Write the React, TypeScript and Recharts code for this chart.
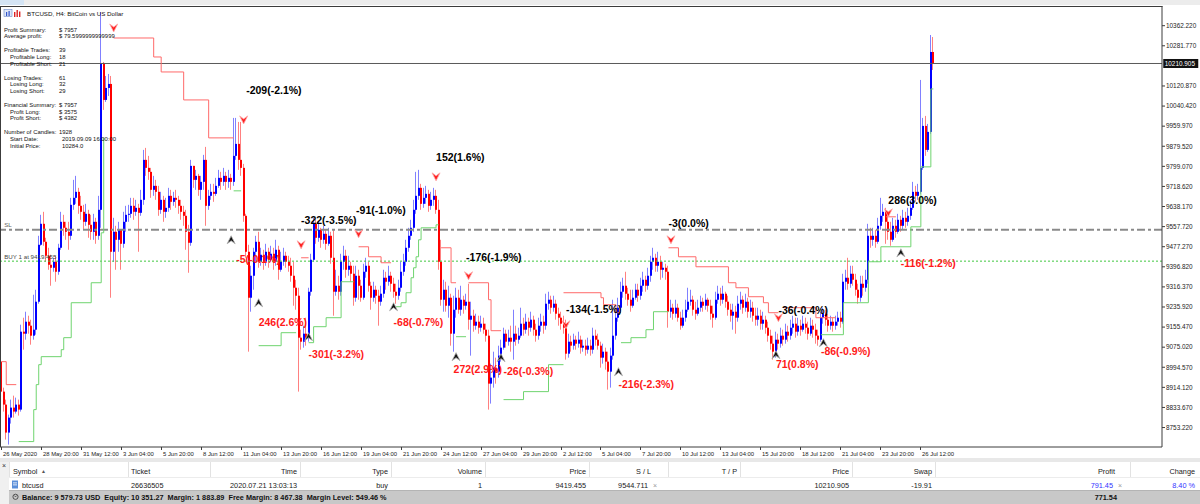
import {
  Bar,
  ComposedChart,
  Line,
  ReferenceDot,
  ReferenceLine,
  XAxis,
  YAxis,
} from "recharts"

const FONT = "'Liberation Sans', Arial, sans-serif"

// BTCUSD H4 candles, 26 May 04:00 .. 26 Jul 2020 (open = previous close)
const firstOpen = 9017
const closes = [
  8897, 8845, 8733, 8793, 8833, 8817, 8845, 8825, 9137, 9129, 9177, 9161, 9121, 9145, 9257, 9485,
  9569, 9497, 9441, 9405, 9393, 9417, 9377, 9473, 9577, 9553, 9537, 9521, 9645, 9673, 9697, 9641,
  9617, 9577, 9609, 9565, 9537, 9577, 9521, 9625, 10213, 10065, 10113, 10129, 9457, 9537, 9505, 9545,
  9489, 9577, 9605, 9609, 9641, 9617, 9633, 9613, 9665, 9825, 9793, 9777, 9705, 9721, 9697, 9625,
  9665, 9617, 9633, 9681, 9657, 9673, 9665, 9641, 9617, 9601, 9537, 9493, 9801, 9745, 9761, 9705,
  9737, 9825, 9641, 9681, 9697, 9689, 9721, 9753, 9737, 9761, 9737, 9753, 9737, 9841, 9889, 9825,
  9793, 9601, 9457, 9273, 9361, 9457, 9497, 9417, 9445, 9417, 9457, 9425, 9449, 9417, 9465, 9385,
  9417, 9441, 9417, 9401, 9361, 9313, 9281, 9113, 9097, 9129, 9113, 9297, 9425, 9569, 9513, 9545,
  9505, 9529, 9489, 9521, 9433, 9297, 9321, 9297, 9417, 9441, 9385, 9401, 9369, 9273, 9361, 9321,
  9273, 9377, 9401, 9321, 9273, 9305, 9281, 9257, 9289, 9353, 9337, 9361, 9329, 9297, 9281, 9313,
  9377, 9417, 9473, 9521, 9553, 9625, 9681, 9713, 9649, 9673, 9689, 9641, 9665, 9681, 9625, 9417,
  9265, 9305, 9241, 9273, 9129, 9225, 9273, 9225, 9265, 9241, 9257, 9185, 9201, 9161, 9177, 9153,
  9169, 9145, 9121, 8929, 8953, 8993, 8977, 9041, 9073, 9129, 9097, 9113, 9097, 9129, 9105, 9121,
  9169, 9145, 9177, 9153, 9185, 9145, 9121, 9161, 9177, 9161, 9249, 9265, 9233, 9249, 9209, 9193,
  9169, 9153, 9049, 9097, 9081, 9105, 9089, 9105, 9073, 9081, 9065, 9081, 9065, 9121, 9105, 9081,
  9033, 9057, 9017, 8977, 9041, 9121, 9193, 9233, 9297, 9321, 9289, 9265, 9241, 9273, 9305, 9281,
  9321, 9345, 9321, 9361, 9417, 9433, 9401, 9417, 9385, 9393, 9377, 9217, 9233, 9209, 9233, 9193,
  9161, 9193, 9225, 9257, 9265, 9225, 9209, 9233, 9257, 9241, 9265, 9241, 9209, 9193, 9265, 9289,
  9265, 9289, 9257, 9225, 9201, 9217, 9193, 9249, 9265, 9233, 9257, 9217, 9233, 9201, 9185, 9201,
  9169, 9185, 9153, 9121, 9089, 9057, 9105, 9089, 9121, 9105, 9137, 9121, 9153, 9169, 9137, 9161,
  9145, 9169, 9153, 9129, 9161, 9145, 9121, 9105, 9193, 9209, 9185, 9161, 9177, 9161, 9177, 9193,
  9177, 9337, 9353, 9329, 9369, 9345, 9305, 9273, 9329, 9313, 9345, 9521, 9505, 9521, 9497, 9561,
  9601, 9617, 9577, 9537, 9505, 9561, 9537, 9585, 9561, 9593, 9577, 9601, 9633, 9697, 9681, 9697,
  9793, 9961, 9865, 9937, 10257, 10210.905,
]
const highs = [
  9033, 8913, 8865, 8805, 8865, 8881, 8873, 8865, 9165, 9193, 9217, 9201, 9185, 9285, 9305, 9521,
  9605, 9617, 9513, 9473, 9445, 9433, 9441, 9489, 9617, 9605, 9577, 9577, 9673, 9745, 9761, 9713,
  9681, 9645, 9649, 9625, 9605, 9609, 9593, 9681, 10417, 10217, 10161, 10169, 10161, 9593, 9561, 9577,
  9545, 9617, 9641, 9645, 9673, 9673, 9665, 9649, 9705, 9865, 9873, 9841, 9793, 9761, 9745, 9721,
  9697, 9681, 9673, 9713, 9705, 9697, 9705, 9681, 9665, 9641, 9625, 9565, 9825, 9801, 9785, 9769,
  9761, 9845, 9877, 9705, 9729, 9729, 9753, 9785, 9777, 9793, 9777, 9785, 9769, 9993, 9993, 9977,
  9977, 9809, 9609, 9485, 9401, 9473, 9521, 9537, 9473, 9465, 9489, 9473, 9481, 9473, 9505, 9481,
  9457, 9473, 9457, 9441, 9433, 9417, 9345, 9313, 9145, 9161, 9193, 9313, 9449, 9593, 9585, 9577,
  9553, 9561, 9545, 9553, 9537, 9545, 9385, 9361, 9449, 9481, 9465, 9441, 9417, 9401, 9401, 9385,
  9345, 9409, 9433, 9417, 9337, 9337, 9321, 9305, 9321, 9385, 9377, 9401, 9377, 9353, 9329, 9345,
  9417, 9449, 9505, 9553, 9585, 9665, 9777, 9785, 9729, 9713, 9721, 9705, 9697, 9713, 9705, 9665,
  9505, 9345, 9337, 9321, 9289, 9281, 9313, 9305, 9321, 9281, 9289, 9329, 9257, 9225, 9209, 9201,
  9201, 9193, 9169, 9145, 9009, 9057, 9033, 9081, 9105, 9153, 9145, 9145, 9161, 9225, 9161, 9153,
  9233, 9193, 9209, 9193, 9217, 9201, 9169, 9193, 9209, 9201, 9289, 9297, 9281, 9281, 9265, 9233,
  9217, 9201, 9185, 9129, 9121, 9129, 9121, 9137, 9121, 9105, 9105, 9113, 9105, 9153, 9145, 9129,
  9097, 9089, 9073, 9057, 9073, 9265, 9225, 9273, 9337, 9353, 9377, 9313, 9305, 9305, 9329, 9329,
  9353, 9377, 9361, 9393, 9441, 9473, 9449, 9457, 9441, 9417, 9409, 9401, 9265, 9249, 9265, 9249,
  9217, 9225, 9265, 9313, 9305, 9281, 9257, 9265, 9281, 9273, 9289, 9273, 9265, 9241, 9297, 9321,
  9313, 9321, 9297, 9281, 9249, 9249, 9241, 9281, 9297, 9281, 9289, 9273, 9265, 9257, 9233, 9233,
  9225, 9217, 9201, 9177, 9145, 9121, 9137, 9129, 9153, 9145, 9169, 9161, 9185, 9201, 9193, 9193,
  9185, 9201, 9193, 9177, 9193, 9185, 9169, 9145, 9217, 9233, 9225, 9209, 9201, 9193, 9201, 9217,
  9217, 9369, 9385, 9433, 9401, 9401, 9369, 9329, 9361, 9361, 9385, 9569, 9553, 9553, 9545, 9593,
  9673, 9649, 9633, 9609, 9577, 9593, 9585, 9609, 9601, 9625, 9617, 9633, 9665, 9737, 9721, 9729,
  10145, 9993, 10001, 9969, 10325, 10317,
]
const lows = [
  8865, 8817, 8705, 8685, 8769, 8793, 8809, 8801, 8817, 9065, 9105, 9129, 9085, 9105, 9125, 9249,
  9481, 9481, 9417, 9385, 9321, 9377, 9337, 9365, 9465, 9521, 9505, 9465, 9505, 9625, 9649, 9609,
  9585, 9545, 9561, 9513, 9505, 9505, 9489, 9505, 9553, 10025, 10057, 10081, 9273, 9417, 9385, 9457,
  9385, 9473, 9537, 9577, 9593, 9585, 9601, 9457, 9601, 9645, 9761, 9745, 9673, 9681, 9665, 9601,
  9609, 9577, 9593, 9617, 9625, 9641, 9633, 9609, 9585, 9561, 9465, 9373, 9481, 9713, 9705, 9681,
  9665, 9705, 9561, 9625, 9665, 9657, 9681, 9713, 9705, 9721, 9705, 9713, 9705, 9721, 9825, 9785,
  9761, 9577, 9433, 9057, 9217, 9305, 9417, 9393, 9401, 9385, 9401, 9393, 9417, 9385, 9401, 9345,
  9377, 9401, 9393, 9377, 9337, 9241, 9225, 8897, 9065, 9073, 9081, 9097, 9281, 9417, 9489, 9497,
  9473, 9489, 9465, 9481, 9409, 9201, 9281, 9265, 9281, 9385, 9353, 9361, 9337, 9241, 9257, 9265,
  9257, 9265, 9353, 9297, 9225, 9257, 9249, 9161, 9241, 9273, 9305, 9321, 9297, 9273, 9249, 9265,
  9297, 9361, 9401, 9457, 9505, 9537, 9609, 9665, 9625, 9633, 9649, 9617, 9625, 9641, 9609, 9385,
  9241, 9217, 9217, 9193, 9081, 9057, 9193, 9209, 9201, 9209, 9225, 9145, 9041, 9137, 9145, 9129,
  9137, 9129, 9097, 8825, 8849, 8913, 8929, 8953, 9017, 9065, 9073, 9081, 9057, 9025, 9081, 9089,
  9113, 9121, 9129, 9121, 9137, 9121, 9097, 9105, 9137, 9129, 9145, 9225, 9209, 9217, 9185, 9161,
  9145, 9129, 9025, 9033, 9057, 9065, 9065, 9073, 9049, 9057, 9041, 9049, 9041, 9049, 9081, 9065,
  8993, 9009, 8985, 8905, 8913, 9025, 9105, 9177, 9217, 9273, 9265, 9241, 9217, 9233, 9265, 9257,
  9265, 9297, 9297, 9305, 9337, 9385, 9377, 9377, 9345, 9353, 9345, 9153, 9193, 9185, 9193, 9177,
  9145, 9153, 9177, 9217, 9241, 9201, 9185, 9201, 9217, 9217, 9225, 9217, 9185, 9153, 9185, 9249,
  9241, 9249, 9233, 9201, 9177, 9145, 9129, 9177, 9225, 9209, 9217, 9193, 9193, 9177, 9161, 9161,
  9145, 9145, 9129, 9097, 9065, 9025, 9033, 9065, 9073, 9081, 9089, 9097, 9105, 9129, 9113, 9121,
  9121, 9137, 9129, 9105, 9121, 9113, 9089, 9081, 9097, 9169, 9161, 9137, 9145, 9137, 9145, 9161,
  9153, 9169, 9305, 9305, 9313, 9321, 9281, 9249, 9257, 9281, 9297, 9329, 9473, 9481, 9473, 9489,
  9545, 9577, 9489, 9505, 9481, 9497, 9513, 9529, 9537, 9545, 9553, 9561, 9585, 9625, 9657, 9665,
  9689, 9785, 9841, 9857, 9929, 10185,
]

const xTickBars = [0, 16, 32, 48, 64, 80, 96, 112, 128, 144, 160, 176, 192, 208, 224, 240, 256, 272, 288, 304, 320, 336, 352, 368]
const xTickLabels = [
  "26 May 2020", "28 May 20:00", "31 May 12:00", "3 Jun 04:00", "5 Jun 20:00", "8 Jun 12:00",
  "11 Jun 04:00", "13 Jun 20:00", "16 Jun 12:00", "19 Jun 04:00", "21 Jun 20:00", "24 Jun 12:00",
  "27 Jun 04:00", "29 Jun 20:00", "2 Jul 12:00", "5 Jul 04:00", "7 Jul 20:00", "10 Jul 12:00",
  "13 Jul 04:00", "15 Jul 20:00", "18 Jul 12:00", "21 Jul 04:00", "23 Jul 20:00", "26 Jul 12:00",
]
const yTicks = [
  10362.22, 10281.77, 10120.87, 10040.42, 9959.97, 9879.52, 9799.07, 9718.62, 9638.17, 9557.72,
  9477.27, 9396.82, 9316.37, 9235.92, 9155.47, 9075.02, 8994.57, 8914.12, 8833.67, 8753.22,
]
const yDomain = [8675.3, 10441.1]
const slotCount = 465

const lastPrice = 10210.905
const stopLoss = 9544.711
const entryPrice = 9419.455

// trailing stops: [bar, price] break points
const redStops = [
  [[0, 9017], [2, 8925], [6, 8925]],
  [[45, 10313], [61, 10237], [64, 10177], [73, 10065], [83, 9913], [93, 9913]],
  [[120, 9433], [123, 9433]],
  [[143, 9477], [147, 9437], [152, 9413], [156, 9413]],
  [[176, 9473], [180, 9333], [182, 9333]],
  [[187, 9333], [195, 9265], [196, 9141], [200, 9141]],
  [[225, 9293], [240, 9273], [241, 9245], [246, 9213], [248, 9213]],
  [[267, 9473], [271, 9437], [278, 9397], [291, 9333], [294, 9313], [299, 9277], [305, 9253], [307, 9213], [311, 9213]],
  [[313, 9233], [326, 9193], [334, 9193]],
  [[354, 9597], [358, 9597]],
]
const greenStops = [
  [[7, 8697], [13, 8825], [14, 8925], [15, 9005], [16, 9037], [24, 9065], [25, 9113], [28, 9253], [36, 9333], [40, 9533], [41, 9913]],
  [[93, 9701], [96, 9701]],
  [[103, 9081], [112, 9133], [118, 9133]],
  [[123, 9093], [125, 9157], [130, 9193], [136, 9337], [141, 9337]],
  [[158, 9237], [160, 9253], [162, 9293], [164, 9353], [165, 9393], [166, 9437], [167, 9505], [168, 9553], [174, 9565], [175, 9565]],
  [[182, 9117], [186, 9117]],
  [[201, 8865], [209, 8897], [219, 9005], [225, 9005]],
  [[248, 9093], [252, 9113], [258, 9145], [261, 9217], [267, 9217]],
  [[328, 9125], [337, 9253], [347, 9417], [352, 9477], [364, 9557], [368, 9797], [372, 10109], [373, 10109]],
]

const sellArrows = [[45, 10353], [97, 9985], [120, 9485], [143, 9529], [174, 9757], [187, 9361], [226, 9165], [268, 9505], [311, 9193], [355, 9613]]
const buyArrows = [[92, 9505], [103, 9253], [123, 9117], [157, 9237], [182, 9037], [200, 9033], [247, 8977], [310, 9045], [329, 9093], [360, 9453]]

const closedTrades = [
  { i: 98, p: 10105, text: "-209(-2.1%)", win: false },
  { i: 174, p: 9837, text: "152(1.6%)", win: false },
  { i: 120, p: 9581, text: "-322(-3.5%)", win: false },
  { i: 142, p: 9621, text: "-91(-1.0%)", win: false },
  { i: 267, p: 9569, text: "-3(0.0%)", win: false },
  { i: 186, p: 9433, text: "-176(-1.9%)", win: false },
  { i: 226, p: 9225, text: "-134(-1.5%)", win: false },
  { i: 311, p: 9221, text: "-36(-0.4%)", win: false },
  { i: 355, p: 9665, text: "286(3.0%)", win: false },
  { i: 94, p: 9425, text: "-5(-0.1%)", win: true },
  { i: 103, p: 9173, text: "246(2.6%)", win: true },
  { i: 123, p: 9045, text: "-301(-3.2%)", win: true },
  { i: 157, p: 9173, text: "-68(-0.7%)", win: true },
  { i: 181, p: 8985, text: "272(2.9%)", win: true },
  { i: 201, p: 8977, text: "-26(-0.3%)", win: true },
  { i: 247, p: 8925, text: "-216(-2.3%)", win: true },
  { i: 310, p: 9005, text: "71(0.8%)", win: true },
  { i: 328, p: 9057, text: "-86(-0.9%)", win: true },
  { i: 360, p: 9409, text: "-116(-1.2%)", win: true },
]

const summaryGroups = [
  [["Profit Summary:", "$ 7957"], ["Average profit:", "$ 79.5999999999999"]],
  [["Profitable Trades:", "39"], ["Profitable Long:", "18"], ["Profitable Short:", "21"]],
  [["Losing Trades:", "61"], ["Losing Long:", "32"], ["Losing Short:", "29"]],
  [["Financial Summary:", "$ 7957"], ["Profit Long:", "$ 3575"], ["Profit Short:", "$ 4382"]],
  [["Number of Candles:", "1928"], ["Start Date:", "2019.09.09 16:00:00"], ["Initial Price:", "10284.0"]],
]

const tableHeaders = ["Symbol", "Ticket", "Time", "Type", "Volume", "Price", "S / L", "T / P", "Price", "Swap", "Profit", "Change"]
const positionRow = ["btcusd", "26636505", "2020.07.21 13:03:13", "buy", "1", "9419.455", "9544.711", "", "10210.905", "-19.91", "791.45", "8.40 %"]
const accountLine = "Balance: 9 579.73 USD  Equity: 10 351.27  Margin: 1 883.89  Free Margin: 8 467.38  Margin Level: 549.46 %"
const totalProfit = "771.54"

type Row = { i: number; o?: number; h?: number; l?: number; c?: number; range: [number, number] | null; [k: string]: unknown }

const rows: Row[] = Array.from({ length: slotCount }, (_, i) => {
  if (i >= closes.length) return { i, range: null }
  const o = i === 0 ? firstOpen : closes[i - 1]
  const c = closes[i]
  const h = Math.max(highs[i], o, c)
  const l = Math.min(lows[i], o, c)
  return { i, o, h, l, c, range: [l, h] }
})
redStops.forEach((seg, k) => seg.forEach(([i, p]) => (rows[i][`r${k}`] = p)))
greenStops.forEach((seg, k) => seg.forEach(([i, p]) => (rows[i][`g${k}`] = p)))

const Candle = (props: any) => {
  const { x, y, width, height, payload } = props
  if (!payload || payload.o == null || !Number.isFinite(y)) return null
  const { o, h, l, c } = payload
  const top = Math.min(y, y + height)
  const bottom = Math.max(y, y + height)
  const span = h - l || 1
  const toPx = (v: number) => top + ((h - v) / span) * (bottom - top)
  const up = c >= o
  const cx = Math.round(x + width / 2)
  const bTop = toPx(Math.max(o, c))
  const bBot = toPx(Math.min(o, c))
  return (
    <g>
      <line x1={cx - 0.5} x2={cx - 0.5} y1={top} y2={bottom} stroke={up ? "#8080ff" : "#ff8080"} strokeWidth={1} />
      <rect x={cx - 1} y={bTop} width={2} height={Math.max(1, bBot - bTop)} fill={up ? "#0000ff" : "#ff0000"} />
    </g>
  )
}

const DateTick = (props: any) => {
  const { x, y, payload } = props
  const k = xTickBars.indexOf(payload.value)
  const px = Math.floor(x) + 0.5
  return (
    <g>
      <line x1={px} x2={px} y1={y} y2={y + 3} stroke="#3c3c3c" />
      <text x={px + 1.5} y={y + 9} fontSize={5.9} fill="#222" fontFamily={FONT}>
        {xTickLabels[k]}
      </text>
    </g>
  )
}

const SellArrow = ({ cx, cy }: any) => (
  <path
    d={`M${cx - 4},${cy - 4} L${cx},${cy - 1} L${cx + 4},${cy - 4} L${cx},${cy + 4} Z`}
    fill="#ff2020"
    stroke="#ffa8a8"
    strokeWidth={0.8}
  />
)

const BuyArrow = ({ cx, cy }: any) => (
  <path
    d={`M${cx - 4},${cy + 4} L${cx},${cy + 1} L${cx + 4},${cy + 4} L${cx},${cy - 4} Z`}
    fill="#111"
    stroke="#b0b0b0"
    strokeWidth={0.8}
  />
)

const colRight = [0, 0, 297, 388, 482, 586, 651, 737, 849, 932, 1115, 1195]
const colLeft = [13, 131]
const rowRight = [0, 0, 297, 388, 482, 586, 648, 737, 849, 932, 1113, 1195]
const colSeps = [9, 128, 210, 300, 391, 485, 589, 668, 740, 852, 935, 1130]

export default function App() {
  let ly = 31.5
  const summaryLines: { label: string; value: string; sub: boolean; y: number; vx: number }[] = []
  summaryGroups.forEach((g, gi) => {
    g.forEach(([label, value], ri) => {
      summaryLines.push({ label, value, sub: ri > 0 && gi > 0, y: ly, vx: gi === 4 && ri > 0 ? 62 : 59 })
      ly += 6.67
    })
    ly += 7.4
  })

  return (
    <div style={{ position: "relative", width: 1200, height: 504, background: "#fff", overflow: "hidden", fontFamily: FONT }}>
      <style>{"body{margin:0}"}</style>
      <div style={{ position: "absolute", left: 0, top: 0 }}>
        <ComposedChart width={1200} height={460} data={rows} margin={{ top: 6, right: 0, bottom: 0, left: 0 }}>
          <XAxis
            dataKey="i"
            type="category"
            ticks={xTickBars}
            interval={0}
            tick={<DateTick />}
            tickLine={false}
            tickSize={0}
            tickMargin={0}
            height={13}
            axisLine={{ stroke: "#3c3c3c" }}
          />
          <YAxis
            orientation="right"
            type="number"
            domain={yDomain}
            allowDataOverflow
            ticks={yTicks}
            interval={0}
            width={38}
            tickSize={3}
            tickMargin={1}
            tickLine={{ stroke: "#3c3c3c" }}
            axisLine={{ stroke: "#3c3c3c" }}
            tick={{ fontSize: 6.4, fill: "#222", fontFamily: FONT }}
            tickFormatter={(v: number) => v.toFixed(3)}
          />
          <ReferenceLine y={lastPrice} stroke="#5a5a5a" />
          <ReferenceLine y={stopLoss} stroke="#8a8a8a" strokeWidth={2} strokeDasharray="8 3 3 3" />
          <ReferenceLine y={entryPrice} stroke="#3fc83f" strokeDasharray="2 2" />
          <Bar dataKey="range" shape={Candle} isAnimationActive={false} />
          {redStops.map((_, k) => (
            <Line
              key={`r${k}`}
              dataKey={`r${k}`}
              type="stepAfter"
              connectNulls
              dot={false}
              activeDot={false}
              stroke="#ff6a6a"
              strokeWidth={1}
              isAnimationActive={false}
            />
          ))}
          {greenStops.map((_, k) => (
            <Line
              key={`g${k}`}
              dataKey={`g${k}`}
              type="stepAfter"
              connectNulls
              dot={false}
              activeDot={false}
              stroke="#6fd46f"
              strokeWidth={1}
              isAnimationActive={false}
            />
          ))}
          {sellArrows.map(([i, p]) => (
            <ReferenceDot key={`s${i}`} x={i} y={p} r={1} shape={(d: any) => <SellArrow cx={d.cx} cy={d.cy} />} />
          ))}
          {buyArrows.map(([i, p]) => (
            <ReferenceDot key={`b${i}`} x={i} y={p} r={1} shape={(d: any) => <BuyArrow cx={d.cx} cy={d.cy} />} />
          ))}
          {closedTrades.map((t) => (
            <ReferenceDot
              key={`t${t.i}${t.text}`}
              x={t.i}
              y={t.p}
              r={1}
              shape={(d: any) => (
                <text x={d.cx} y={d.cy} dy="0.35em" fontSize={10.5} fontWeight={700} fill={t.win ? "#ff1a1a" : "#000"} fontFamily={FONT}>
                  {t.text}
                </text>
              )}
            />
          ))}
          <ReferenceDot
            x={0}
            y={stopLoss}
            r={1}
            shape={(d: any) => (
              <text x={d.cx + 3} y={d.cy - 3} fontSize={6.2} fill="#666" fontFamily={FONT}>SL</text>
            )}
          />
          <ReferenceDot
            x={0}
            y={entryPrice}
            r={1}
            shape={(d: any) => (
              <text x={d.cx + 3} y={d.cy - 2} fontSize={6.2} fill="#444" fontFamily={FONT}>
                {`BUY 1 at ${entryPrice}`}
              </text>
            )}
          />
          <ReferenceDot
            x={slotCount - 1}
            y={lastPrice}
            r={1}
            shape={(d: any) => (
              <g>
                <rect x={d.cx + 2.5} y={d.cy - 4.5} width={35} height={9} fill="#111" />
                <text x={d.cx + 4} y={d.cy + 2.4} fontSize={6.4} fill="#fff" fontFamily={FONT}>
                  {lastPrice.toFixed(3)}
                </text>
              </g>
            )}
          />
        </ComposedChart>
      </div>

      <svg width={1200} height={504} style={{ position: "absolute", left: 0, top: 0, pointerEvents: "none" }} fontFamily={FONT}>
        <rect x={0} y={0} width={1200} height={5} fill="#ececec" />
        <rect x={0} y={0} width={24} height={5} fill="#d4e4f4" />
        <line x1={0} x2={1162.5} y1={6.5} y2={6.5} stroke="#3c3c3c" />
        <line x1={0.5} x2={0.5} y1={6} y2={447} stroke="#3c3c3c" />

        <rect x={4} y={9.5} width={8} height={7} fill="#dfe8f7" stroke="#6d89c9" strokeWidth={0.6} />
        <rect x={6} y={12} width={1.2} height={4} fill="#3355cc" />
        <rect x={8.5} y={11} width={1.2} height={5} fill="#3355cc" />
        <rect x={14} y={12} width={1.4} height={5} fill="#d22" />
        <rect x={16.5} y={10} width={1.4} height={7} fill="#d22" />
        <rect x={19} y={11.5} width={1.4} height={5.5} fill="#d22" />
        <text x={27} y={15.5} fontSize={6.2} fill="#111">BTCUSD, H4:  BitCoin vs US Dollar</text>

        {summaryLines.map((s) => (
          <g key={s.label}>
            <text x={s.sub ? 10 : 4} y={s.y} fontSize={5.9} fill="#111">{s.label}</text>
            <text x={s.vx} y={s.y} fontSize={5.9} fill="#111">{s.value}</text>
          </g>
        ))}

        <rect x={0} y={458} width={1200} height={4} fill="#e8e8e8" />
        <rect x={0} y={462} width={9} height={42} fill="#f0f0f0" />
        <text x={2} y={468} fontSize={7} fill="#333">×</text>
        <line x1={9} x2={1200} y1={477.5} y2={477.5} stroke="#ececec" />
        {colSeps.map((x) => (
          <line key={x} x1={x + 0.5} x2={x + 0.5} y1={462} y2={477} stroke="#e2e2e2" />
        ))}
        {tableHeaders.map((h, k) => (
          <text
            key={`h${k}`}
            x={k < 2 ? colLeft[k] : colRight[k]}
            y={473.5}
            fontSize={7.3}
            fill="#222"
            textAnchor={k < 2 ? "start" : "end"}
          >
            {h}
          </text>
        ))}
        <text x={41} y={473} fontSize={5} fill="#555">▲</text>

        <rect x={12} y={480.5} width={6} height={8} fill="#5b8fd9" />
        <rect x={13} y={482.5} width={4} height={0.8} fill="#fff" />
        <rect x={13} y={484.5} width={4} height={0.8} fill="#fff" />
        {positionRow.map((v, k) => (
          <text
            key={`v${k}`}
            x={k === 0 ? 22 : k === 1 ? colLeft[1] : rowRight[k]}
            y={488}
            fontSize={7.3}
            fill={k >= 10 ? "#3333ff" : "#222"}
            textAnchor={k < 2 ? "start" : "end"}
          >
            {v}
          </text>
        ))}
        <text x={653} y={488} fontSize={7} fill="#999">×</text>
        <text x={1118} y={488} fontSize={7} fill="#999">×</text>

        <rect x={9} y={490} width={1191} height={14} fill="#c8c8c8" />
        <line x1={9} x2={1200} y1={490.5} y2={490.5} stroke="#b4b4b4" />
        <circle cx={15.5} cy={496.8} r={2.6} fill="none" stroke="#333" strokeWidth={0.8} />
        <path d="M14.4,495.6 L15.5,496.9 L16.6,495.6" fill="none" stroke="#333" strokeWidth={0.7} />
        <text x={22} y={500} fontSize={7.3} fontWeight={700} fill="#111" style={{ whiteSpace: "pre" }}>
          {accountLine}
        </text>
        <text x={1117} y={500} fontSize={7.3} fontWeight={700} fill="#111" textAnchor="end">
          {totalProfit}
        </text>
      </svg>
    </div>
  )
}
